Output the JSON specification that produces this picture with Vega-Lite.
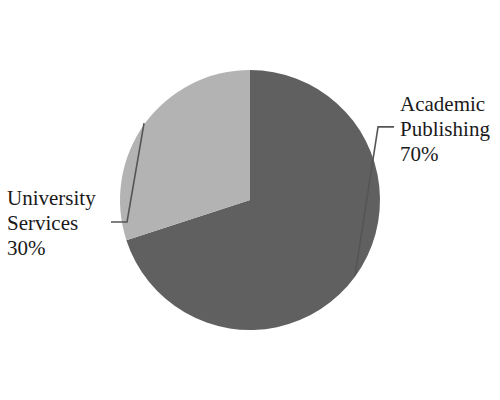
{
  "$schema": "https://vega.github.io/schema/vega-lite/v6.json",
  "width": 500,
  "height": 400,
  "padding": 0,
  "autosize": {"type": "none"},
  "background": "white",
  "config": {"view": {"stroke": null}},
  "datasets": {
    "slices": [
      {"category": "Academic Publishing", "value": 70, "order": 1},
      {"category": "University Services", "value": 30, "order": 2}
    ],
    "leaders": [
      {"label": "Academic Publishing", "seq": 1, "x": 0.808, "y": -0.577},
      {"label": "Academic Publishing", "seq": 2, "x": 0.985, "y": 0.562},
      {"label": "Academic Publishing", "seq": 3, "x": 1.108, "y": 0.562},
      {"label": "University Services", "seq": 1, "x": -0.815, "y": 0.592},
      {"label": "University Services", "seq": 2, "x": -0.946, "y": -0.169},
      {"label": "University Services", "seq": 3, "x": -1.069, "y": -0.169}
    ],
    "labels": [
      {"text": "Academic\nPublishing\n70%", "x": 1.154, "y": 0.685},
      {"text": "University\nServices\n30%", "x": -1.869, "y": -0.0385}
    ]
  },
  "layer": [
    {
      "data": {"name": "slices"},
      "mark": {"type": "arc", "radius": 130},
      "encoding": {
        "x": {"datum": 0, "type": "quantitative", "scale": {"domain": [-1.923, 1.923], "nice": false, "zero": false}, "axis": null},
        "y": {"datum": 0, "type": "quantitative", "scale": {"domain": [-1.538, 1.538], "nice": false, "zero": false}, "axis": null},
        "theta": {"field": "value", "type": "quantitative", "stack": true},
        "order": {"field": "order", "type": "quantitative"},
        "color": {
          "field": "category",
          "type": "nominal",
          "scale": {"domain": ["Academic Publishing", "University Services"], "range": ["#606060", "#b3b3b3"]},
          "legend": null
        }
      }
    },
    {
      "data": {"name": "leaders"},
      "mark": {"type": "line", "color": "#555555", "strokeWidth": 1.6},
      "encoding": {
        "x": {"field": "x", "type": "quantitative", "scale": {"domain": [-1.923, 1.923], "nice": false, "zero": false}, "axis": null},
        "y": {"field": "y", "type": "quantitative", "scale": {"domain": [-1.538, 1.538], "nice": false, "zero": false}, "axis": null},
        "detail": {"field": "label", "type": "nominal"},
        "order": {"field": "seq", "type": "quantitative"}
      }
    },
    {
      "data": {"name": "labels"},
      "mark": {
        "type": "text",
        "align": "left",
        "baseline": "alphabetic",
        "lineBreak": "\n",
        "lineHeight": 25,
        "font": "Liberation Serif",
        "fontSize": 21,
        "color": "#1a1a1a"
      },
      "encoding": {
        "x": {"field": "x", "type": "quantitative", "scale": {"domain": [-1.923, 1.923], "nice": false, "zero": false}, "axis": null},
        "y": {"field": "y", "type": "quantitative", "scale": {"domain": [-1.538, 1.538], "nice": false, "zero": false}, "axis": null},
        "text": {"field": "text", "type": "nominal"}
      }
    }
  ]
}
